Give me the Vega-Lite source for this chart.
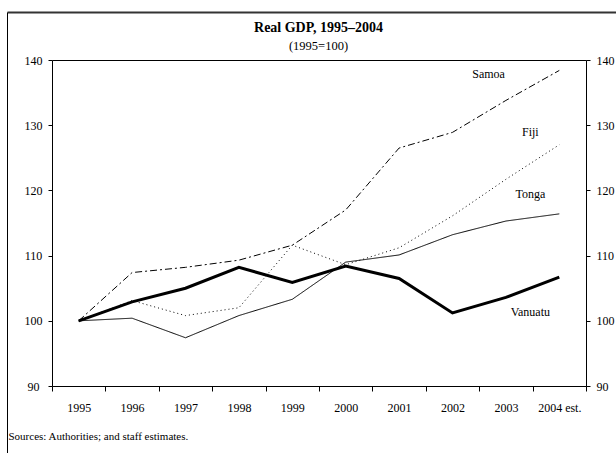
{
  "$schema": "https://vega.github.io/schema/vega-lite/v6.json",
  "autosize": "none",
  "width": 609,
  "height": 441,
  "padding": {"left": 7, "top": 12, "right": 0, "bottom": 0},
  "background": "white",
  "config": {
    "font": "Liberation Serif, Times New Roman, serif",
    "view": {"stroke": "transparent", "strokeWidth": 0, "strokeOpacity": 0},
    "text": {"font": "Liberation Serif, Times New Roman, serif"},
    "axis": {"domainColor": "black", "tickColor": "black", "labelColor": "black", "titleColor": "black", "grid": false, "labelFont": "Liberation Serif, Times New Roman, serif", "titleFont": "Liberation Serif, Times New Roman, serif", "labelFontSize": 12}
  },
  "title": {
    "text": "Real GDP, 1995–2004",
    "subtitle": "(1995=100)",
    "anchor": "middle",
    "frame": "group",
    "dx": 7,
    "font": "Liberation Serif, Times New Roman, serif",
    "fontSize": 14,
    "fontWeight": "bold",
    "color": "black",
    "subtitleFont": "Liberation Serif, Times New Roman, serif",
    "subtitleFontSize": 12.5,
    "subtitleColor": "black",
    "subtitlePadding": 5,
    "offset": -40
  },
  "datasets": {
    "gdp": [
      {"country": "Samoa", "year": "1995", "value": 100},
      {"country": "Samoa", "year": "1996", "value": 107.4},
      {"country": "Samoa", "year": "1997", "value": 108.2},
      {"country": "Samoa", "year": "1998", "value": 109.3},
      {"country": "Samoa", "year": "1999", "value": 111.6},
      {"country": "Samoa", "year": "2000", "value": 117.0},
      {"country": "Samoa", "year": "2001", "value": 126.5},
      {"country": "Samoa", "year": "2002", "value": 128.9},
      {"country": "Samoa", "year": "2003", "value": 133.8},
      {"country": "Samoa", "year": "2004 est.", "value": 138.4},
      {"country": "Fiji", "year": "1995", "value": 100},
      {"country": "Fiji", "year": "1996", "value": 103.1},
      {"country": "Fiji", "year": "1997", "value": 100.8},
      {"country": "Fiji", "year": "1998", "value": 102.0},
      {"country": "Fiji", "year": "1999", "value": 111.6},
      {"country": "Fiji", "year": "2000", "value": 108.6},
      {"country": "Fiji", "year": "2001", "value": 111.2},
      {"country": "Fiji", "year": "2002", "value": 116.1},
      {"country": "Fiji", "year": "2003", "value": 121.7},
      {"country": "Fiji", "year": "2004 est.", "value": 127.0},
      {"country": "Tonga", "year": "1995", "value": 100},
      {"country": "Tonga", "year": "1996", "value": 100.4},
      {"country": "Tonga", "year": "1997", "value": 97.4},
      {"country": "Tonga", "year": "1998", "value": 100.8},
      {"country": "Tonga", "year": "1999", "value": 103.3},
      {"country": "Tonga", "year": "2000", "value": 109.0},
      {"country": "Tonga", "year": "2001", "value": 110.1},
      {"country": "Tonga", "year": "2002", "value": 113.2},
      {"country": "Tonga", "year": "2003", "value": 115.3},
      {"country": "Tonga", "year": "2004 est.", "value": 116.4},
      {"country": "Vanuatu", "year": "1995", "value": 100},
      {"country": "Vanuatu", "year": "1996", "value": 102.9},
      {"country": "Vanuatu", "year": "1997", "value": 105.0},
      {"country": "Vanuatu", "year": "1998", "value": 108.2},
      {"country": "Vanuatu", "year": "1999", "value": 105.9},
      {"country": "Vanuatu", "year": "2000", "value": 108.4},
      {"country": "Vanuatu", "year": "2001", "value": 106.5},
      {"country": "Vanuatu", "year": "2002", "value": 101.2},
      {"country": "Vanuatu", "year": "2003", "value": 103.6},
      {"country": "Vanuatu", "year": "2004 est.", "value": 106.7}
    ],
    "labels": [
      {"country": "Samoa", "year": "2003", "value": 137.9},
      {"country": "Fiji", "year": "2004 est.", "value": 129.0},
      {"country": "Tonga", "year": "2004 est.", "value": 119.4},
      {"country": "Vanuatu", "year": "2004 est.", "value": 101.3}
    ]
  },
  "layer": [
    {
      "data": {"name": "labels"},
      "mark": {"type": "point", "opacity": 0},
      "encoding": {
        "x": {"field": "country", "type": "nominal", "axis": {"orient": "top", "offset": 0, "title": null, "labels": false, "ticks": false, "domain": true, "domainColor": "#333333", "domainWidth": 2}},
        "y": {"field": "value", "type": "quantitative", "axis": {"orient": "left", "offset": 0, "title": null, "labels": false, "ticks": false, "domain": true, "domainColor": "black", "domainWidth": 1}}
      }
    },
    {
      "layer": [
        {
          "data": {"name": "gdp"},
          "transform": [{"filter": "datum.country !== 'Vanuatu'"}],
          "mark": {"type": "line", "color": "black", "strokeWidth": 1},
          "encoding": {
            "x": {
              "field": "year",
              "type": "ordinal",
              "sort": ["1995", "1996", "1997", "1998", "1999", "2000", "2001", "2002", "2003", "2004 est."],
              "scale": {"type": "band", "paddingInner": 0, "paddingOuter": 0, "range": [45, 579]},
              "axis": {
                "orient": "bottom",
                "offset": -67,
                "title": "Sources: Authorities; and staff estimates.",
                "titleAnchor": "start",
                "titleAlign": "left",
                "titleBaseline": "middle",
                "titleX": 1,
                "titleY": 50,
                "titleFontWeight": "normal",
                "titleFontSize": 11,
                "labelAngle": 0,
                "labelPadding": 11,
                "tickBand": "extent",
                "tickSize": 5
              }
            },
            "y": {
              "field": "value",
              "type": "quantitative",
              "scale": {"domain": [90, 140], "nice": false, "zero": false, "range": [374, 48]},
              "axis": {"orient": "left", "offset": -45, "values": [90, 100, 110, 120, 130, 140], "title": null, "labelAlign": "center", "labelBaseline": "middle", "labelPadding": 15, "tickSize": 4}
            },
            "detail": {"field": "country"},
            "strokeDash": {
              "field": "country",
              "type": "nominal",
              "scale": {"domain": ["Samoa", "Fiji", "Tonga"], "range": [[7, 3, 2, 3], [1, 3], [1, 0]]},
              "legend": null
            }
          }
        },
        {
          "data": {"name": "gdp"},
          "transform": [{"filter": "datum.country === 'Vanuatu'"}],
          "mark": {"type": "line", "color": "black", "strokeWidth": 3},
          "encoding": {
            "x": {
              "field": "year",
              "type": "ordinal",
              "sort": ["1995", "1996", "1997", "1998", "1999", "2000", "2001", "2002", "2003", "2004 est."],
              "axis": {"orient": "top", "offset": -48, "title": null, "labels": false, "ticks": false, "domain": true}
            },
            "y": {
              "field": "value",
              "type": "quantitative",
              "axis": {"orient": "right", "offset": -30, "values": [90, 100, 110, 120, 130, 140], "title": null, "labelBaseline": "middle", "labelPadding": 6, "tickSize": 4}
            }
          }
        },
        {
          "data": {"name": "labels"},
          "transform": [{"filter": "datum.country === 'Samoa'"}],
          "mark": {"type": "text", "align": "right", "baseline": "middle", "dx": -1, "fontSize": 12, "color": "black", "font": "Liberation Serif, Times New Roman, serif"},
          "encoding": {
            "x": {"field": "year", "type": "ordinal", "sort": ["1995", "1996", "1997", "1998", "1999", "2000", "2001", "2002", "2003", "2004 est."], "axis": null},
            "y": {"field": "value", "type": "quantitative", "axis": null},
            "text": {"field": "country"}
          }
        },
        {
          "data": {"name": "labels"},
          "transform": [{"filter": "datum.country !== 'Samoa'"}],
          "mark": {"type": "text", "align": "center", "baseline": "middle", "dx": -29, "fontSize": 12, "color": "black", "font": "Liberation Serif, Times New Roman, serif"},
          "encoding": {
            "x": {"field": "year", "type": "ordinal", "sort": ["1995", "1996", "1997", "1998", "1999", "2000", "2001", "2002", "2003", "2004 est."], "axis": null},
            "y": {"field": "value", "type": "quantitative", "axis": null},
            "text": {"field": "country"}
          }
        }
      ],
      "resolve": {"axis": {"y": "independent", "x": "independent"}}
    }
  ],
  "resolve": {"scale": {"x": "independent", "y": "independent"}, "axis": {"x": "independent", "y": "independent"}}
}
